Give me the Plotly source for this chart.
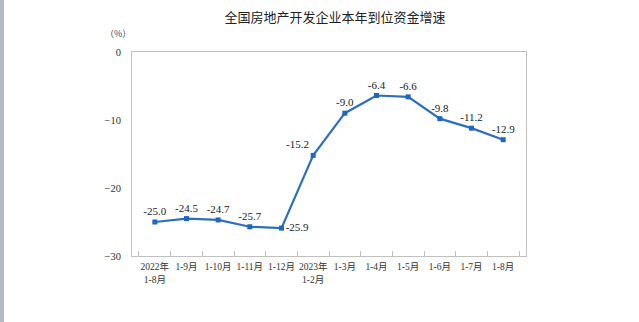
import plotly.graph_objects as go

# Year-to-date growth of funds available to real estate developers (%)
categories = ["2022年<br>1-8月", "1-9月", "1-10月", "1-11月", "1-12月",
              "2023年<br>1-2月", "1-3月", "1-4月", "1-5月", "1-6月", "1-7月", "1-8月"]
growth = [-25.0, -24.5, -24.7, -25.7, -25.9, -15.2, -9.0, -6.4, -6.6, -9.8, -11.2, -12.9]
label_pos = ["top center", "top center", "top center", "top center", "middle right",
             "top left", "top center", "top center", "top center", "top center",
             "top center", "top center"]
y_ticks = [0, -10, -20, -30]

W, H = 639, 322
L, R, T, B = 132, 113, 52, 66
pw, ph = W - L - R, H - T - B

serif = "Liberation Serif, Noto Sans CJK SC, serif"
axis_col = "#c0c0c0"

fig = go.Figure()
fig.add_trace(go.Scatter(
    x=categories, y=growth,
    mode="lines+markers+text",
    line=dict(color="#2e6fba", width=2.2),
    marker=dict(symbol="square", size=5, color="#1f66c2"),
    text=[f"{v:.1f}" for v in growth],
    textposition=label_pos,
    textfont=dict(family=serif, size=11, color="#222222"),
    cliponaxis=False,
    showlegend=False,
))

fig.update_layout(
    width=W, height=H,
    margin=dict(l=L, r=R, t=T, b=B),
    paper_bgcolor="white", plot_bgcolor="white",
    title=dict(text="全国房地产开发企业本年到位资金增速",
               x=335 / W, xanchor="center", y=1 - 17 / H, yanchor="middle",
               font=dict(family="Noto Sans CJK SC, sans-serif", size=13, color="#222222")),
    xaxis=dict(
        type="category", tickson="boundaries", ticks="inside", ticklen=5,
        tickcolor=axis_col, showline=True, linecolor=axis_col, linewidth=1,
        mirror=True, showgrid=False, zeroline=False, tickangle=0,
        ticklabelstandoff=2,
        tickfont=dict(family=serif, size=9.5, color="#333333"),
    ),
    yaxis=dict(
        range=[-30, 0], tickvals=y_ticks, ticks="", showline=True,
        linecolor=axis_col, linewidth=1, mirror=True, showgrid=False,
        zeroline=False, ticklabelstandoff=8,
        tickfont=dict(family=serif, size=10.5, color="#333333"),
    ),
    annotations=[dict(
        text="（%）", xref="paper", yref="paper",
        x=(118 - L) / pw, y=(H - 33 - B) / ph, xanchor="center", yanchor="middle",
        showarrow=False, font=dict(family="Noto Sans CJK SC, sans-serif", size=9, color="#444444"),
    )],
    shapes=[dict(
        type="rect", xref="paper", yref="paper",
        x0=-L / pw, x1=(4 - L) / pw, y0=-B / ph, y1=1 + T / ph,
        fillcolor="#b6bac6", line=dict(width=0), layer="above",
    )],
)

fig.write_html("out.html")
